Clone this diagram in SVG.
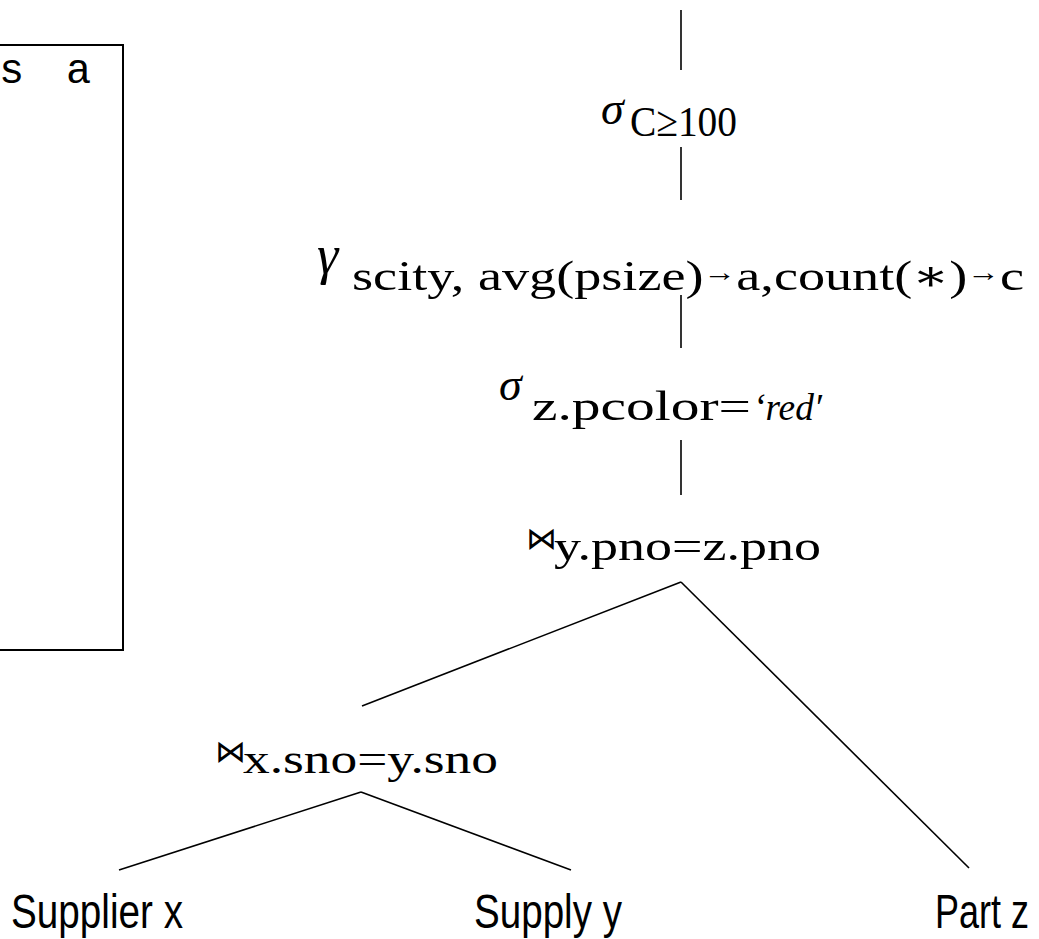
<svg xmlns="http://www.w3.org/2000/svg" width="1039" height="939" viewBox="0 0 1039 939">
  <style>
    .edge { stroke: #000; stroke-width: 1.6; fill: none; stroke-linecap: butt; }
    .frame { stroke: #000; stroke-width: 2; fill: #fff; }
    .code { font-family: "Liberation Mono", "DejaVu Sans Mono", monospace; font-size: 42px; fill: #000; }
    .op { font-family: "Liberation Serif", "DejaVu Serif", serif; font-style: italic; font-size: 46px; fill: #000; }
    .opl { font-family: "Liberation Serif", "DejaVu Serif", serif; font-style: italic; font-size: 54px; fill: #000; }
    .sub { font-family: "Liberation Serif", "DejaVu Serif", serif; font-size: 43px; fill: #000; }
    .arr { font-size: 26px; }
    .lit { font-style: italic; font-size: 37px; }
    .bow { font-family: "DejaVu Sans", "Noto Sans", sans-serif; font-size: 31px; fill: #000; }
    .rel { font-family: "Liberation Sans", Arial, sans-serif; font-size: 36px; fill: #000; }
  </style>

  <!-- SQL query panel, clipped at the left edge -->
  <g id="query-box">
    <rect class="frame" x="-5" y="45" width="128" height="605"/>
    <text class="code" x="-1 33 66" y="83">s a</text>
  </g>

  <!-- tree edges -->
  <g id="edges">
    <line class="edge" x1="681" y1="10" x2="681" y2="70"/>
    <line class="edge" x1="681" y1="147" x2="681" y2="200"/>
    <line class="edge" x1="681" y1="295" x2="681" y2="348"/>
    <line class="edge" x1="681" y1="440" x2="681" y2="495"/>
    <line class="edge" x1="681" y1="582" x2="362" y2="706"/>
    <line class="edge" x1="681" y1="582" x2="969" y2="868"/>
    <line class="edge" x1="361" y1="792" x2="119" y2="870"/>
    <line class="edge" x1="361" y1="792" x2="571" y2="870"/>
  </g>

  <!-- selection: count threshold -->
  <g id="select-count">
    <text class="op" x="601" y="124">σ</text>
    <text class="sub" x="630" y="136" textLength="107" lengthAdjust="spacingAndGlyphs">C≥100</text>
  </g>

  <!-- grouping / aggregation -->
  <g id="group-by">
    <text class="opl" x="317" y="273">γ</text>
    <text class="sub" x="352" y="290" textLength="672" lengthAdjust="spacingAndGlyphs">scity, avg(psize)<tspan class="arr" dy="-9">→</tspan><tspan dy="9">a,count(∗)</tspan><tspan class="arr" dy="-9">→</tspan><tspan dy="9">c</tspan></text>
  </g>

  <!-- selection: part colour -->
  <g id="select-color">
    <text class="op" x="499" y="400">σ</text>
    <text class="sub" x="532" y="420" textLength="219" lengthAdjust="spacingAndGlyphs">z.pcolor=</text>
    <text class="sub lit" x="753" y="420" textLength="69" lengthAdjust="spacingAndGlyphs">‘red′</text>
  </g>

  <!-- join on part number -->
  <g id="join-pno">
    <text class="bow" x="526" y="549">⋈</text>
    <text class="sub" x="554" y="560" textLength="267" lengthAdjust="spacingAndGlyphs">y.pno=z.pno</text>
  </g>

  <!-- join on supplier number -->
  <g id="join-sno">
    <text class="bow" x="215" y="762">⋈</text>
    <text class="sub" x="243" y="773" textLength="255" lengthAdjust="spacingAndGlyphs">x.sno=y.sno</text>
  </g>

  <!-- base relations (tall, narrow lettering) -->
  <g id="rel-supplier">
    <text class="rel" transform="translate(11 928) scale(1 1.33)" textLength="172" lengthAdjust="spacingAndGlyphs">Supplier x</text>
  </g>
  <g id="rel-supply">
    <text class="rel" transform="translate(474 928) scale(1 1.33)" textLength="148" lengthAdjust="spacingAndGlyphs">Supply y</text>
  </g>
  <g id="rel-part">
    <text class="rel" transform="translate(935 928) scale(1 1.33)" textLength="94" lengthAdjust="spacingAndGlyphs">Part z</text>
  </g>
</svg>
